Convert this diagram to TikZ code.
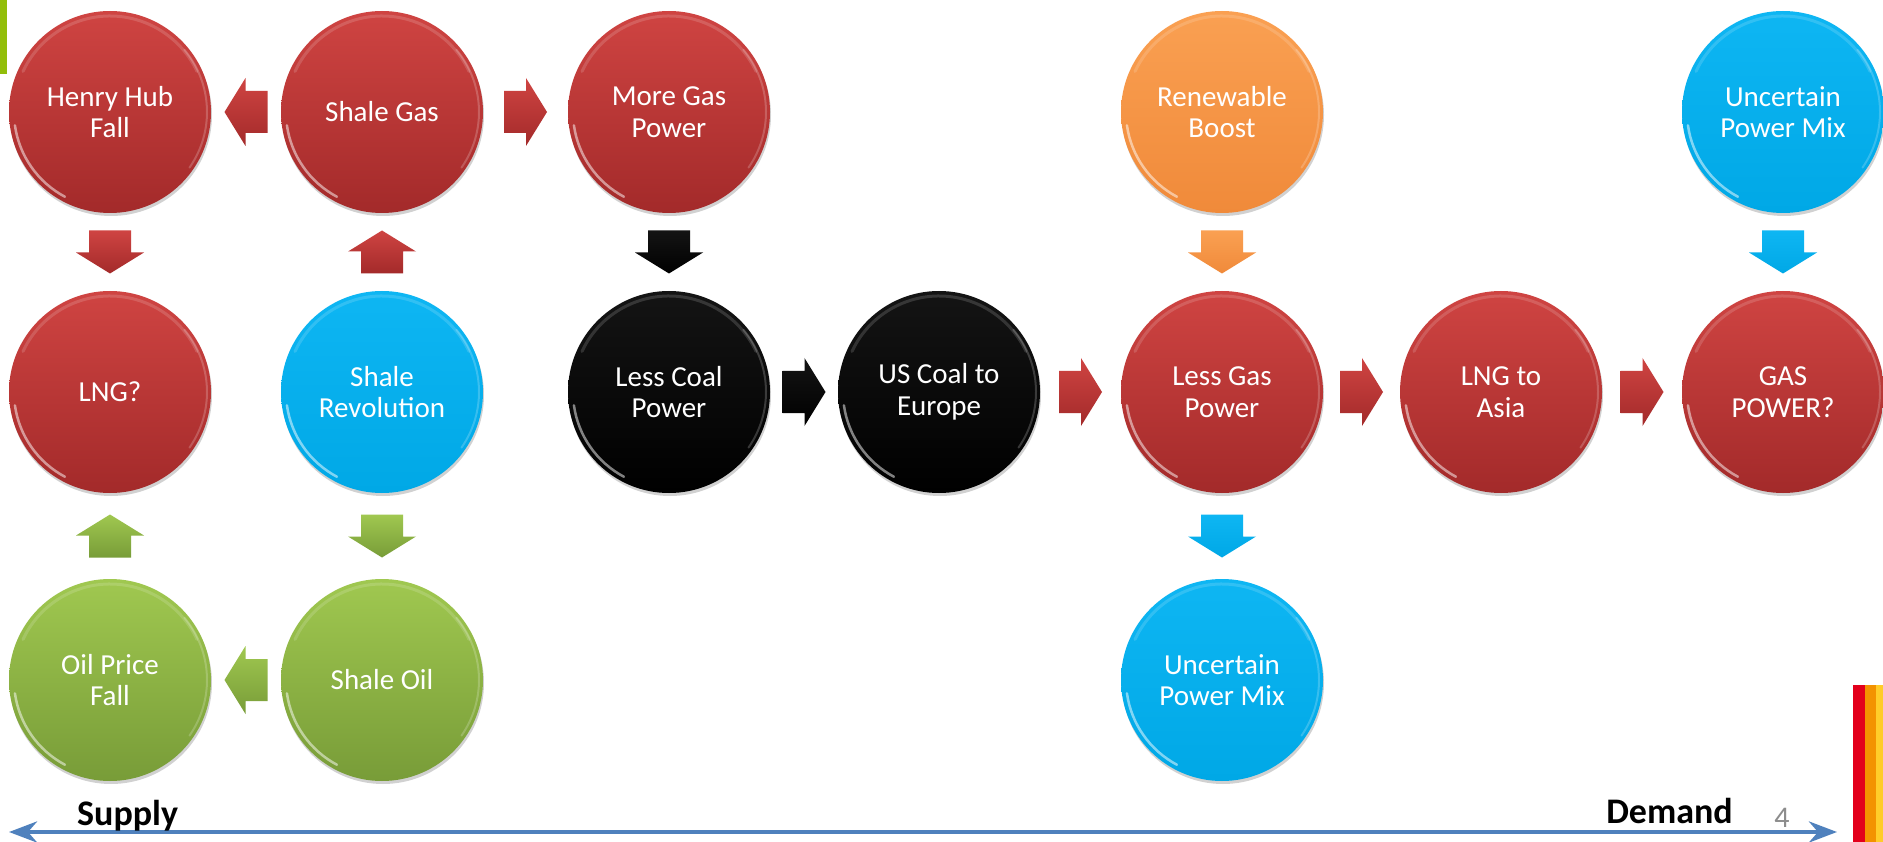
\documentclass[tikz,border=0pt]{standalone}
\usepackage{fontspec}
\setmainfont{Carlito}
\usetikzlibrary{calc,shadows,arrows.meta}
\definecolor{redT}{RGB}{207,68,66}
\definecolor{redB}{RGB}{163,42,42}
\definecolor{bluT}{RGB}{14,182,243}
\definecolor{bluB}{RGB}{0,168,230}
\definecolor{grnT}{RGB}{160,200,80}
\definecolor{grnB}{RGB}{120,156,56}
\definecolor{orgT}{RGB}{250,160,82}
\definecolor{orgB}{RGB}{240,138,58}
\definecolor{blkT}{RGB}{20,20,20}
\definecolor{blkB}{RGB}{0,0,0}
\definecolor{axisblue}{RGB}{79,129,189}
\definecolor{barGreen}{RGB}{146,190,10}
\definecolor{barRed}{RGB}{227,0,27}
\definecolor{barOrange}{RGB}{243,146,0}
\definecolor{barYellow}{RGB}{255,204,41}
\definecolor{pagegray}{RGB}{140,140,140}
\newcommand\blockarr[4]{%
  \path[shift={#1}, rotate=#2, top color=#3, bottom color=#4]
    (-21.5,-21) -- (0.5,-21) -- (0.5,-34) -- (21.5,0) -- (0.5,34) -- (0.5,21) -- (-21.5,21) -- cycle;}
\begin{document}
\begin{tikzpicture}[x=1pt,y=-1pt,
  ball/.style={circle, minimum size=202pt, inner sep=0pt, align=center, text=white,
    font=\fontsize{29}{31.5}\selectfont,
    drop shadow={shadow xshift=1pt, shadow yshift=-3pt, opacity=.18, fill=black}},
  redball/.style={ball, top color=redT, bottom color=redB},
  blueball/.style={ball, top color=bluT, bottom color=bluB},
  greenball/.style={ball, top color=grnT, bottom color=grnB},
  orangeball/.style={ball, top color=orgT, bottom color=orgB},
  blackball/.style={ball, top color=blkT, bottom color=blkB},
  rimlow/.style={white, opacity=.5, line width=2.5pt, line cap=round},
  rimside/.style={white, opacity=.2, line width=2pt, line cap=round},
  rimtop/.style={white, opacity=.15, line width=3pt, line cap=round},
  axisline/.style={axisblue, line width=4.5pt, {Stealth[length=28pt,width=21pt,inset=9pt]}-{Stealth[length=28pt,width=21pt,inset=9pt]}},
  lbl/.style={font=\fontsize{36}{36}\selectfont\bfseries, text=black, inner sep=0pt}
]
\useasboundingbox (0,0) rectangle (1883,842);
\fill[white] (0,0) rectangle (1883,842);
% decorations
\fill[barGreen] (0,0) rectangle (7,74);
\fill[barRed] (1853,685) rectangle (1865,842);
\fill[barOrange] (1865,685) rectangle (1876,842);
\fill[barYellow] (1876,685) rectangle (1883,842);
% circles
\node[redball] (hh) at (110,112) {Henry Hub\\Fall};
\node[redball] (sg) at (382,112) {Shale Gas};
\node[redball] (mg) at (669,112) {More Gas\\Power};
\node[orangeball] (rb) at (1222,112) {Renewable\\Boost};
\node[blueball] (ut) at (1783,112) {Uncertain\\Power Mix};
\node[redball] (lq) at (110,392) {LNG?};
\node[blueball] (sr) at (382,392) {Shale\\Revolution};
\node[blackball] (lc) at (669,392) {Less Coal\\Power};
\node[blackball] (uc) at (939,392) {US Coal to\\Europe};
\node[redball] (lg) at (1222,392) {Less Gas\\Power};
\node[redball] (la) at (1501,392) {LNG to\\Asia};
\node[redball] (gp) at (1783,392) {GAS\\POWER?};
\node[greenball] (of) at (110,680) {Oil Price\\Fall};
\node[greenball] (so) at (382,680) {Shale Oil};
\node[blueball] (ub) at (1222,680) {Uncertain\\Power Mix};
% glossy rims
\foreach \n in {hh,sg,mg,rb,ut,lq,sr,lc,uc,lg,la,gp,of,so,ub} {
  \draw[rimlow] ($(\n.center)+(118:96)$) arc[start angle=118, end angle=172, radius=96];
  \draw[rimside] ($(\n.center)+(-40:97)$) arc[start angle=-40, end angle=35, radius=97];
  \draw[rimtop] ($(\n.center)+(205:96)$) arc[start angle=205, end angle=335, radius=96];
}
% block arrows
\blockarr{($(sg)!0.5!(hh)$)}{180}{redT}{redB}
\blockarr{($(sg)!0.5!(mg)$)}{0}{redT}{redB}
\blockarr{($(hh)!0.5!(lq)$)}{-90}{redT}{redB}
\blockarr{($(sr)!0.5!(sg)$)}{90}{redT}{redB}
\blockarr{($(sr)!0.5!(so)$)}{-90}{grnT}{grnB}
\blockarr{($(of)!0.5!(lq)$)}{90}{grnT}{grnB}
\blockarr{($(so)!0.5!(of)$)}{180}{grnT}{grnB}
\blockarr{($(mg)!0.5!(lc)$)}{-90}{blkT}{blkB}
\blockarr{($(lc)!0.5!(uc)$)}{0}{blkT}{blkB}
\blockarr{($(uc)!0.5!(lg)$)}{0}{redT}{redB}
\blockarr{($(rb)!0.5!(lg)$)}{-90}{orgT}{orgB}
\blockarr{($(lg)!0.5!(ub)$)}{-90}{bluT}{bluB}
\blockarr{($(lg)!0.5!(la)$)}{0}{redT}{redB}
\blockarr{($(la)!0.5!(gp)$)}{0}{redT}{redB}
\blockarr{($(ut)!0.5!(gp)$)}{-90}{bluT}{bluB}
% axis
\coordinate (axl) at (9,832);
\coordinate (axr) at (1837,832);
\draw[axisline] (axl) -- (axr);
\node[lbl, anchor=base west] (sup) at (77,825) {Supply};
\node[lbl, anchor=base east] (dem) at (1733,823) {Demand};
\node[anchor=base, inner sep=0pt, text=pagegray, font=\fontsize{30}{30}\selectfont] (pg) at (1782,827) {4};
\end{tikzpicture}
\end{document}
